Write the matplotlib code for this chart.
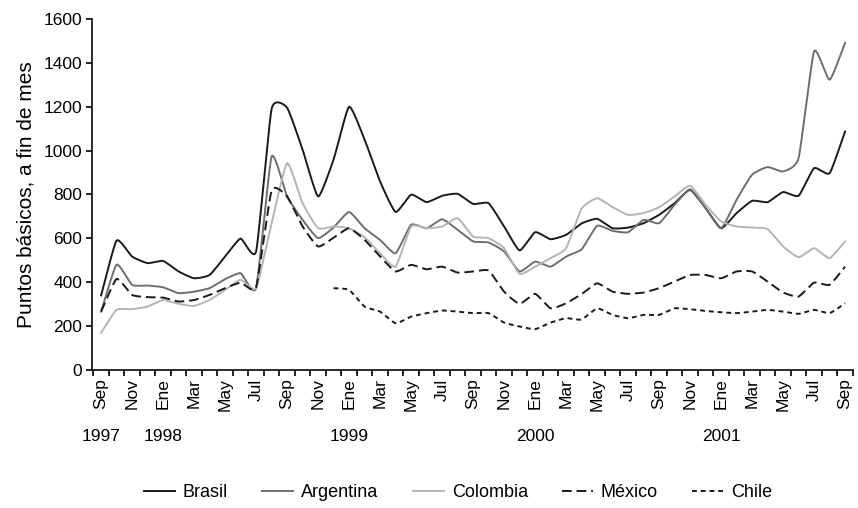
import numpy as np
import matplotlib
matplotlib.use("Agg")
import matplotlib.pyplot as plt
from matplotlib.transforms import blended_transform_factory

plt.rcParams['font.family'] = ['Liberation Sans', 'DejaVu Sans']

month_labels = ["Sep", "Nov", "Ene", "Mar", "May", "Jul"]
year_labels = ["1997", "1998", "1999", "2000", "2001"]
year_positions = [0, 4, 16, 28, 40]

brasil = [340, 590, 517, 487, 497, 449, 418, 433, 517, 599, 540, 1190, 1195, 1004, 791,
          960, 1200, 1050, 859, 720, 799, 765, 794, 803, 757, 760, 654, 545, 628, 596,
          616, 668, 689, 646, 649, 669, 707, 760, 821, 738, 646, 715, 771, 765, 811,
          794, 920, 897, 1087]
argentina = [266, 480, 388, 385, 377, 350, 357, 373, 414, 441, 373, 973, 791, 684, 601,
             650, 720, 646, 593, 532, 662, 646, 687, 639, 586, 581, 540, 449, 494, 471,
             517, 550, 657, 634, 628, 684, 669, 753, 824, 738, 646, 776, 890, 925, 905,
             966, 1453, 1323, 1491]
colombia = [170, 274, 277, 289, 319, 301, 292, 319, 365, 411, 373, 669, 943, 760, 646,
            654, 646, 605, 532, 471, 654, 646, 654, 692, 608, 601, 555, 438, 471, 510,
            555, 735, 783, 742, 707, 715, 742, 791, 840, 753, 677, 654, 649, 642, 563,
            514, 555, 510, 586]
mexico = [266, 415, 342, 332, 330, 312, 319, 342, 373, 398, 377, 818, 791, 654, 563,
          603, 646, 593, 517, 449, 479, 459, 471, 444, 449, 453, 357, 301, 347, 281,
          304, 346, 395, 357, 347, 353, 373, 403, 433, 433, 418, 449, 449, 403, 353,
          335, 398, 388, 471]
chile = [None] * 15 + [373, 365, 289, 266, 213, 243, 259, 271, 266, 259, 259, 216, 198,
                       186, 216, 236, 230, 281, 251, 236, 251, 251, 281, 277, 269, 263,
                       259, 266, 274, 266, 256, 274, 259, 304]

series = [
    ("Brasil", brasil, "#1a1a1a", "-"),
    ("Argentina", argentina, "#6e6e6e", "-"),
    ("Colombia", colombia, "#b4b4b4", "-"),
    ("México", mexico, "#1a1a1a", (0, (5, 2.5))),
    ("Chile", chile, "#1a1a1a", (0, (2.5, 2))),
]


def smooth(xs, ys, n=12, tension=0.5):
    """Cardinal spline through the data points (display smoothing only)."""
    xs = np.asarray(xs, float)
    ys = np.asarray(ys, float)
    if len(xs) < 3:
        return xs, ys
    m = len(xs)
    tx = np.zeros(m)
    ty = np.zeros(m)
    tx[1:-1] = (xs[2:] - xs[:-2]) / 2 * tension
    ty[1:-1] = (ys[2:] - ys[:-2]) / 2 * tension
    tx[0], ty[0] = (xs[1] - xs[0]) * tension, (ys[1] - ys[0]) * tension
    tx[-1], ty[-1] = (xs[-1] - xs[-2]) * tension, (ys[-1] - ys[-2]) * tension
    t = np.linspace(0, 1, n, endpoint=False)
    h00 = 2 * t ** 3 - 3 * t ** 2 + 1
    h10 = t ** 3 - 2 * t ** 2 + t
    h01 = -2 * t ** 3 + 3 * t ** 2
    h11 = t ** 3 - t ** 2
    outx, outy = [], []
    for i in range(m - 1):
        outx.extend(h00 * xs[i] + h10 * tx[i] + h01 * xs[i + 1] + h11 * tx[i + 1])
        outy.extend(h00 * ys[i] + h10 * ty[i] + h01 * ys[i + 1] + h11 * ty[i + 1])
    outx.append(xs[-1])
    outy.append(ys[-1])
    return np.array(outx), np.array(outy)


fig = plt.figure(figsize=(8.58, 5.08), dpi=100)
ax = fig.add_axes([0.107, 0.2717, 0.887, 0.691])

n = len(brasil)
for name, vals, color, ls in series:
    idx = [i for i, v in enumerate(vals) if v is not None]
    yv = [vals[i] for i in idx]
    sx, sy = smooth(idx, yv)
    ax.plot(sx, sy, color=color, linestyle=ls, linewidth=1.4, label=name)

ax.set_xlim(-0.6, n - 0.5)
ax.set_ylim(0, 1600)
ax.set_yticks(np.arange(0, 1601, 200))
ax.tick_params(axis='y', labelsize=12.5, direction='out', length=4, width=1.2, pad=3)

# month boundaries as ticks, labels at every second month
ax.set_xticks(np.arange(-0.5, n, 1.0))
ax.set_xticklabels([])
ax.tick_params(axis='x', which='major', direction='out', length=4, width=1.2)
lab_pos = np.arange(0, n, 2)
ax.set_xticks(lab_pos, minor=True)
ax.set_xticklabels([month_labels[k % 6] for k in range(len(lab_pos))], minor=True,
                   rotation=90, fontsize=12.5)
ax.tick_params(axis='x', which='minor', length=0, pad=6)

for s in ("top", "right"):
    ax.spines[s].set_visible(False)
for s in ("left", "bottom"):
    ax.spines[s].set_linewidth(1.3)
    ax.spines[s].set_color("#1a1a1a")

trans = blended_transform_factory(ax.transData, ax.transAxes)
for lab, pos in zip(year_labels, year_positions):
    ax.text(pos, -0.19, lab, transform=trans, ha='center', va='center', fontsize=12.5)

ax.set_ylabel("Puntos básicos, a fin de mes", fontsize=15, labelpad=6)

fig.legend(loc='center', bbox_to_anchor=(0.534, 0.03), ncol=5, frameon=False,
           fontsize=13, handlelength=1.7, columnspacing=1.9, handletextpad=0.45)

fig.savefig("out.png", dpi=100)
